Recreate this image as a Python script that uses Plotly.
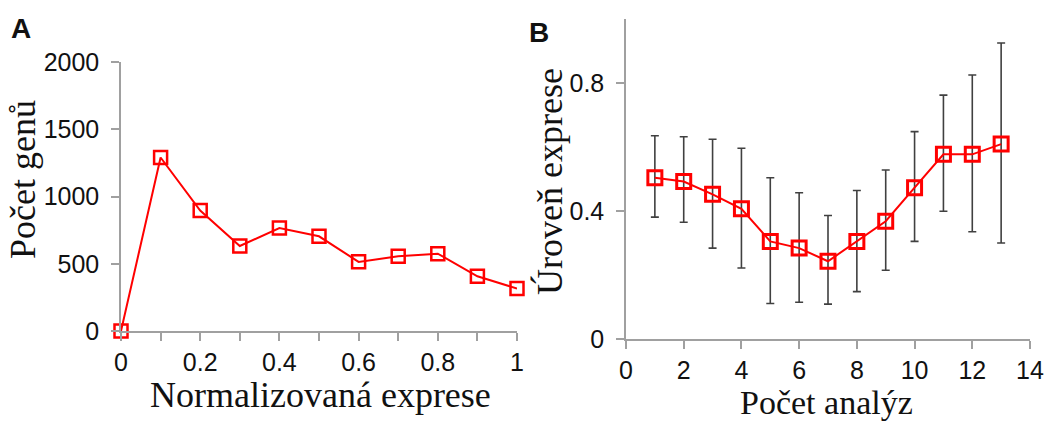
import plotly.graph_objects as go

# Panel A data
a_x = [0, 0.1, 0.2, 0.3, 0.4, 0.5, 0.6, 0.7, 0.8, 0.9, 1.0]
a_counts = [0, 1290, 896, 632, 765, 704, 514, 556, 575, 407, 316]
a_tickvals = [0, 0.1, 0.2, 0.3, 0.4, 0.5, 0.6, 0.7, 0.8, 0.9, 1.0]
a_ticktext = ["0", "", "0.2", "", "0.4", "", "0.6", "", "0.8", "", "1"]
a_ytickvals = [0, 500, 1000, 1500, 2000]

# Panel B data
b_x = [1, 2, 3, 4, 5, 6, 7, 8, 9, 10, 11, 12, 13]
b_mean = [0.504, 0.492, 0.452, 0.407, 0.305, 0.284, 0.243, 0.305, 0.368, 0.473, 0.577, 0.577, 0.609]
b_upper = [0.635, 0.632, 0.624, 0.596, 0.504, 0.457, 0.386, 0.464, 0.528, 0.648, 0.762, 0.825, 0.925]
b_lower = [0.381, 0.365, 0.284, 0.222, 0.111, 0.115, 0.109, 0.148, 0.215, 0.305, 0.399, 0.335, 0.300]
b_xtickvals = [0, 2, 4, 6, 8, 10, 12, 14]
b_ytickvals = [0, 0.4, 0.8]

RED = "#ff0000"
AXIS = "#a0a0a0"
TICKFONT = dict(family="Liberation Sans, Arial", size=25, color="#111111")
TITLEFONT = dict(family="Liberation Serif, Times New Roman", size=36, color="#111111")

W, H = 1047, 421

fig = go.Figure()

fig.add_trace(go.Scatter(
    x=a_x, y=a_counts, mode="lines+markers",
    line=dict(color=RED, width=2),
    marker=dict(symbol="square-open", size=13, color=RED, line=dict(width=2.5, color=RED)),
    cliponaxis=False, xaxis="x", yaxis="y", showlegend=False,
))

err_plus = [u - m for u, m in zip(b_upper, b_mean)]
err_minus = [m - l for m, l in zip(b_mean, b_lower)]

fig.add_trace(go.Scatter(
    x=b_x, y=b_mean, mode="lines+markers",
    line=dict(color=RED, width=2),
    marker=dict(symbol="square-open", size=14, color=RED, line=dict(width=3, color=RED)),
    error_y=dict(type="data", symmetric=False, array=err_plus, arrayminus=err_minus,
                 color="#404040", thickness=1.6, width=4),
    cliponaxis=False, xaxis="x2", yaxis="y2", showlegend=False,
))

def px_x(p):
    return p / W

def px_y(p):
    return (H - p) / H

common = dict(showgrid=False, zeroline=False, showline=True, linecolor=AXIS, linewidth=1.5,
              ticks="outside", tickcolor=AXIS, tickwidth=1.5, ticklen=8, tickfont=TICKFONT,
              automargin=False)

fig.update_layout(
    template="none",
    width=W, height=H,
    margin=dict(l=0, r=0, t=0, b=0, pad=0, autoexpand=False),
    paper_bgcolor="white", plot_bgcolor="white",
    xaxis=dict(domain=[px_x(121), px_x(517)], range=[0, 1], tickmode="array",
               tickvals=a_tickvals, ticktext=a_ticktext, anchor="y", **common),
    yaxis=dict(domain=[px_y(331), px_y(62)], range=[0, 2000], tickmode="array",
               tickvals=a_ytickvals, anchor="x", ticklabelstandoff=7, **common),
    xaxis2=dict(domain=[px_x(626), px_x(1030)], range=[0, 14], tickmode="array",
                tickvals=b_xtickvals, anchor="y2", **common),
    yaxis2=dict(domain=[px_y(339), px_y(19)], range=[0, 1], tickmode="array",
                tickvals=b_ytickvals, ticktext=["0", "0.4", "0.8"], anchor="x2",
                ticklabelstandoff=7, **common),
)

annots = [
    dict(text="<b>A</b>", x=px_x(21), y=px_y(28), font=dict(family="Liberation Sans, Arial", size=28, color="#111111")),
    dict(text="<b>B</b>", x=px_x(539), y=px_y(32), font=dict(family="Liberation Sans, Arial", size=28, color="#111111")),
    dict(text="Normalizovaná exprese", x=px_x(320), y=px_y(395), font=TITLEFONT),
    dict(text="Počet genů", x=px_x(23), y=px_y(180), textangle=-90, font=TITLEFONT),
    dict(text="Počet analýz", x=px_x(826), y=px_y(402),
         font=dict(family="Liberation Serif, Times New Roman", size=34, color="#111111")),
    dict(text="Úroveň exprese", x=px_x(550), y=px_y(182), textangle=-90, font=TITLEFONT),
]
for a in annots:
    fig.add_annotation(xref="paper", yref="paper", showarrow=False,
                       xanchor="center", yanchor="middle", **a)

fig.write_html("out.html", config={"displayModeBar": False},
               post_script="document.body.style.margin='0';document.body.style.overflow='hidden';")
